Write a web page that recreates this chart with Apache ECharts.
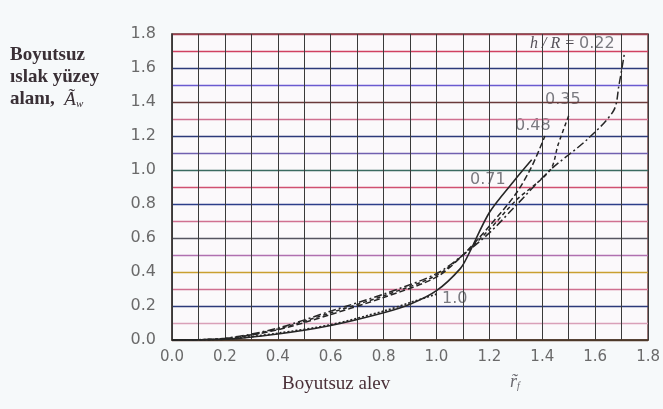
<!DOCTYPE html>
<html><head><meta charset="utf-8">
<script src="https://cdn.jsdelivr.net/npm/echarts@6/dist/echarts.min.js"></script>
<style>html,body{margin:0;padding:0;background:#f6f9fa;}#c{width:663px;height:409px;}</style>
</head><body><div id="c"></div>
<script>
// h/R = 1.0 (dotted)
const curve100 = [[0,0],[0.2,0.005],[0.4,0.04],[0.6,0.09],[0.8,0.17],[0.9,0.22],[1.0,0.27]];
// h/R = 0.71 (solid)
const curve071 = [[0,0],[0.2,0.004],[0.4,0.035],[0.6,0.085],[0.8,0.16],[0.9,0.21],[1.0,0.29],[1.09,0.42],[1.12,0.5],[1.2,0.75],[1.29,0.93],[1.36,1.06]];
// h/R = 0.48 (dashed)
const curve048 = [[0,0],[0.2,0.008],[0.4,0.06],[0.6,0.15],[0.8,0.25],[1.0,0.37],[1.1,0.5],[1.2,0.67],[1.3,0.86],[1.36,1.02],[1.41,1.2]];
// h/R = 0.35 (dashed)
const curve035 = [[0,0],[0.2,0.008],[0.4,0.065],[0.6,0.16],[0.8,0.26],[1.0,0.38],[1.1,0.5],[1.2,0.65],[1.3,0.82],[1.43,1.0],[1.46,1.15],[1.5,1.32]];
// h/R = 0.22 (dash-dot)
const curve022 = [[0,0],[0.2,0.01],[0.4,0.07],[0.6,0.17],[0.8,0.27],[1.0,0.39],[1.1,0.5],[1.2,0.63],[1.3,0.79],[1.43,1.0],[1.57,1.18],[1.67,1.35],[1.69,1.5],[1.71,1.68]];

const yGridColors = ['#5a3a2a','#d9a0b8','#2c3a7a','#d07090','#c9a030','#b070b0','#555560','#d07090','#2c3f8a','#d05070','#3a6a60','#7060b0','#2c3a7a','#d07090','#6a3a3a','#6a5ad0','#2c3a7a','#d04060','#a04050'];
const tickFmt = v => (Math.round(v * 10) % 2 === 0 ? v.toFixed(1) : '');

const chart = echarts.init(document.getElementById('c'));
const lineCol = '#262626';
function mk(data, type, w) {
  return { type: 'line', data: data, symbol: 'none', smooth: 0.3, lineStyle: { color: lineCol, width: w || 1.5, type: type } };
}
chart.setOption({
  backgroundColor: '#f6f9fa',
  animation: false,
  grid: { left: 172, top: 34, width: 480, height: 306, show: true, backgroundColor: '#fbf9fb', borderColor: '#6a3a3a', borderWidth: 1.5 },
  xAxis: {
    type: 'value', min: 0, max: 1.8, interval: 0.1,
    axisLine: { show: true, lineStyle: { color: '#4a3a2a', width: 1.5 } },
    axisTick: { show: false },
    axisLabel: { formatter: tickFmt, color: '#6a6a6a', fontFamily: 'DejaVu Sans', fontSize: 15, margin: 10 },
    splitLine: { show: true, lineStyle: { color: '#3a3a3a', width: 1 } }
  },
  yAxis: {
    type: 'value', min: 0, max: 1.8, interval: 0.1,
    axisLine: { show: true, lineStyle: { color: '#3a3a3a', width: 1.5 } },
    axisTick: { show: false },
    axisLabel: { formatter: tickFmt, color: '#6a6a6a', fontFamily: 'DejaVu Sans', fontSize: 16, margin: 16 },
    splitLine: { show: true, lineStyle: { color: yGridColors, width: 1.3 } }
  },
  series: [
    mk(curve100, [2, 2], 1.7),
    mk(curve071, 'solid', 1.6),
    mk(curve048, [6, 3], 1.5),
    mk(curve035, [4, 3], 1.5),
    mk(curve022, [8, 3, 2, 3], 1.5)
  ],
  graphic: [
    { type: 'text', left: 10, top: 46, style: { text: 'Boyutsuz', font: 'bold 19px "Liberation Serif"', fill: '#3a3036' } },
    { type: 'text', left: 10, top: 68, style: { text: 'ıslak yüzey', font: 'bold 19px "Liberation Serif"', fill: '#3a3036' } },
    { type: 'text', left: 10, top: 90, style: { text: '{a|alanı,  }{b|Ã}{c|w}', rich: { a: { font: 'bold 19px "Liberation Serif"', fill: '#3a3036' }, b: { font: 'italic 19px "Liberation Serif"', fill: '#3a3036' }, c: { font: 'italic 11px "Liberation Serif"', fill: '#3a3036', padding: [9, 0, 0, 0] } } } },
    { type: 'text', left: 282, top: 375, style: { text: 'Boyutsuz alev', font: '19px "Liberation Serif"', fill: '#4a3038' } },
    { type: 'text', left: 510, top: 373, style: { text: '{a|r̃}{b|f}', rich: { a: { font: 'italic 18px "Liberation Serif"', fill: '#6a6a70' }, b: { font: 'italic 10px "Liberation Serif"', fill: '#6a6a70', padding: [8, 0, 0, 0] } } } },
    { type: 'text', left: 530, top: 36, style: { text: '{a|h / R = }{b|0.22}', rich: { a: { font: 'italic 16px "Liberation Serif"', fill: '#555058' }, b: { font: '16px "DejaVu Sans"', fill: '#7a7a80' } } } },
    { type: 'text', left: 545, top: 92, style: { text: '0.35', font: '16px "DejaVu Sans"', fill: '#7a7a80' } },
    { type: 'text', left: 515, top: 118, style: { text: '0.48', font: '16px "DejaVu Sans"', fill: '#7a7a80' } },
    { type: 'text', left: 470, top: 172, style: { text: '0.71', font: '16px "DejaVu Sans"', fill: '#7a7a80' } },
    { type: 'text', left: 442, top: 291, style: { text: '1.0', font: '16px "DejaVu Sans"', fill: '#7a7a80' } }
  ]
});
</script></body></html>
